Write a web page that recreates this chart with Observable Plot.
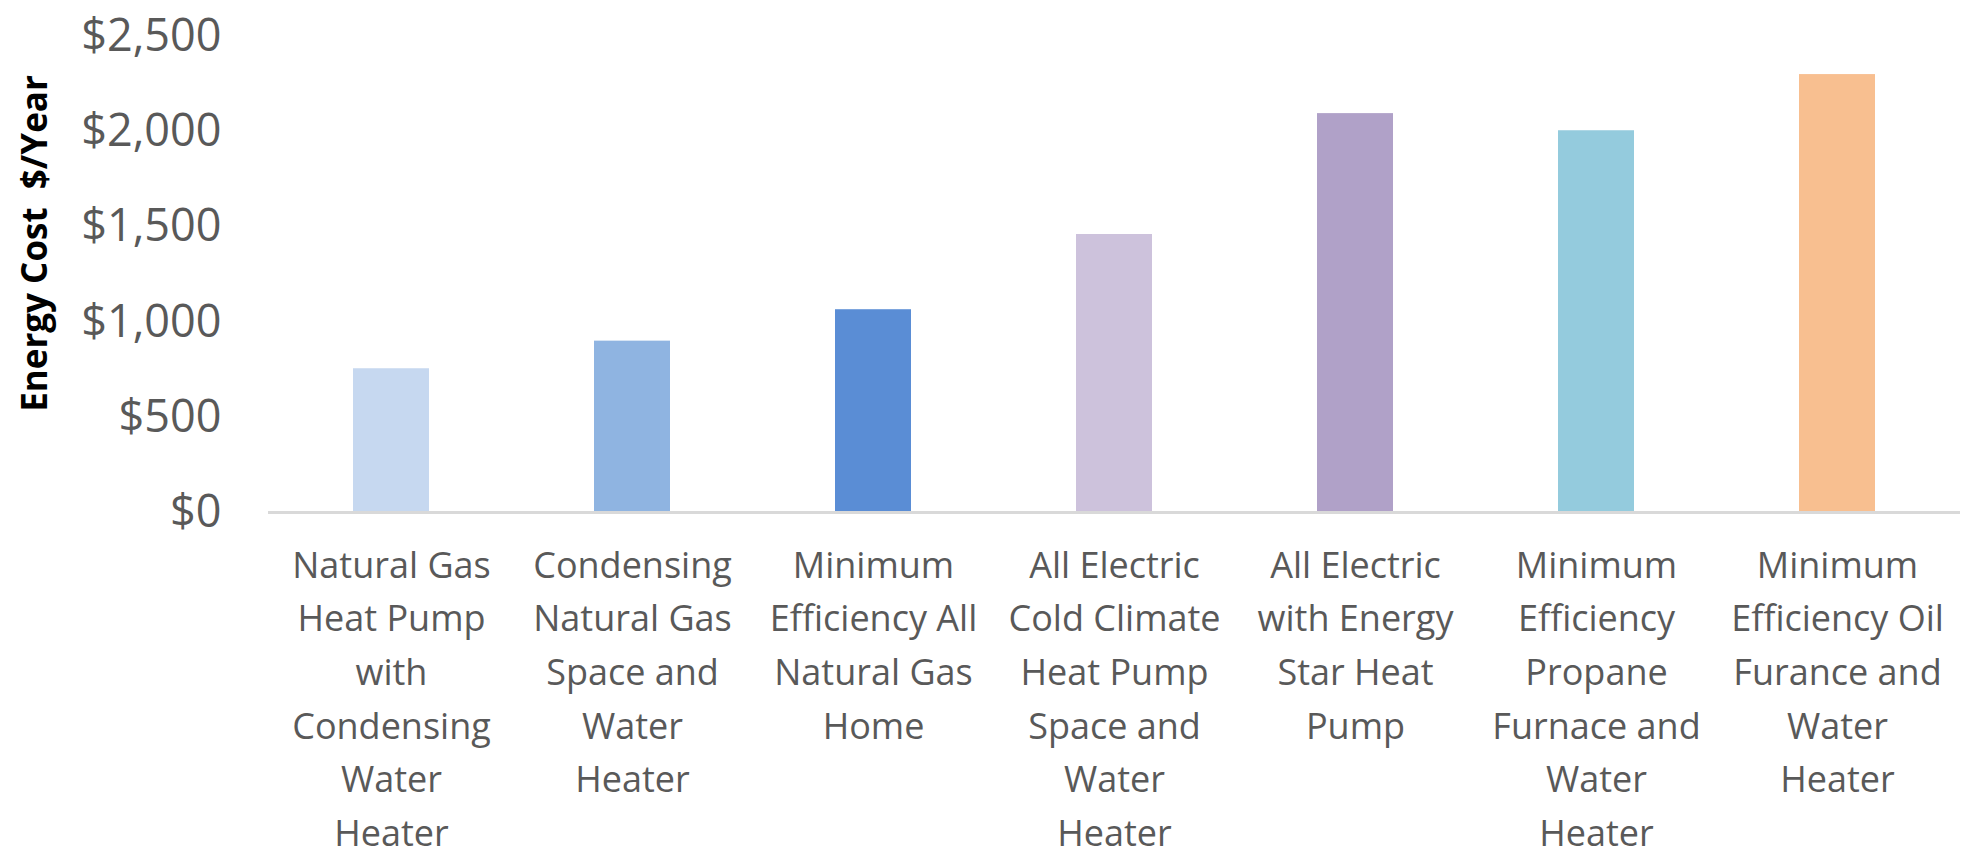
<!DOCTYPE html>
<html>
<head>
<meta charset="utf-8">
<script src="https://cdn.jsdelivr.net/npm/d3@7"></script>
<script src="https://cdn.jsdelivr.net/npm/@observablehq/plot@0.6"></script>
<style>
  html, body { margin: 0; padding: 0; background: #ffffff; }
  #chart svg { display: block; }
</style>
</head>
<body>
<div id="chart"></div>
<script>
const categories = [
  "Natural Gas Heat Pump with Condensing Water Heater",
  "Condensing Natural Gas Space and Water Heater",
  "Minimum Efficiency All Natural Gas Home",
  "All Electric Cold Climate Heat Pump Space and Water Heater",
  "All Electric with Energy Star Heat Pump",
  "Minimum Efficiency Propane Furnace and Water Heater",
  "Minimum Efficiency Oil Furance and Water Heater"
];
const tickLabels = [
  "Natural Gas\nHeat Pump\nwith\nCondensing\nWater\nHeater",
  "Condensing\nNatural Gas\nSpace and\nWater\nHeater",
  "Minimum\nEfficiency All\nNatural Gas\nHome",
  "All Electric\nCold Climate\nHeat Pump\nSpace and\nWater\nHeater",
  "All Electric\nwith Energy\nStar Heat\nPump",
  "Minimum\nEfficiency\nPropane\nFurnace and\nWater\nHeater",
  "Minimum\nEfficiency Oil\nFurance and\nWater\nHeater"
];
const costs = [755, 900, 1065, 1460, 2095, 2005, 2300];
const colors = ["#c6d8f0", "#8fb4e1", "#5a8dd5", "#cdc2dc", "#b0a1c8", "#94cbdd", "#f8bf90"];
const yTicks = [0, 500, 1000, 1500, 2000, 2500];
const yLabel = "Energy Cost  $/Year";

const data = categories.map((c, i) => ({category: c, cost: costs[i]}));
const fmt = d3.format(",");

const chart = Plot.plot({
  width: 1969,
  height: 858,
  marginLeft: 268,
  marginRight: 9,
  marginTop: 36,
  marginBottom: 346,
  style: {fontFamily: "'Open Sans', sans-serif", background: "#ffffff", color: "#595959"},
  x: {domain: categories, paddingInner: 0.686, paddingOuter: 0.343, align: 0.5},
  y: {domain: [0, 2500]},
  color: {domain: categories, range: colors},
  marks: [
    Plot.barY(data, {x: "category", y: "cost", fill: "category"}),
    Plot.ruleY([0], {stroke: "#d9d9d9", strokeWidth: 3}),
    Plot.axisY({
      ticks: yTicks,
      tickSize: 0,
      tickPadding: 47,
      fontSize: 45,
      fill: "#595959",
      tickFormat: d => "$" + fmt(d),
      label: null
    }),
    Plot.axisX({
      tickSize: 0,
      tickPadding: 27,
      fontSize: 36,
      lineHeight: 1.49,
      fill: "#595959",
      tickFormat: d => tickLabels[categories.indexOf(d)],
      label: null
    }),
    Plot.text([yLabel], {
      text: d => d,
      frameAnchor: "left",
      rotate: -90,
      textAnchor: "middle",
      lineAnchor: "middle",
      dx: -233,
      dy: -31,
      fontSize: 35,
      fontWeight: "bold",
      fill: "#000000"
    })
  ]
});
document.getElementById("chart").appendChild(chart);
</script>
</body>
</html>
